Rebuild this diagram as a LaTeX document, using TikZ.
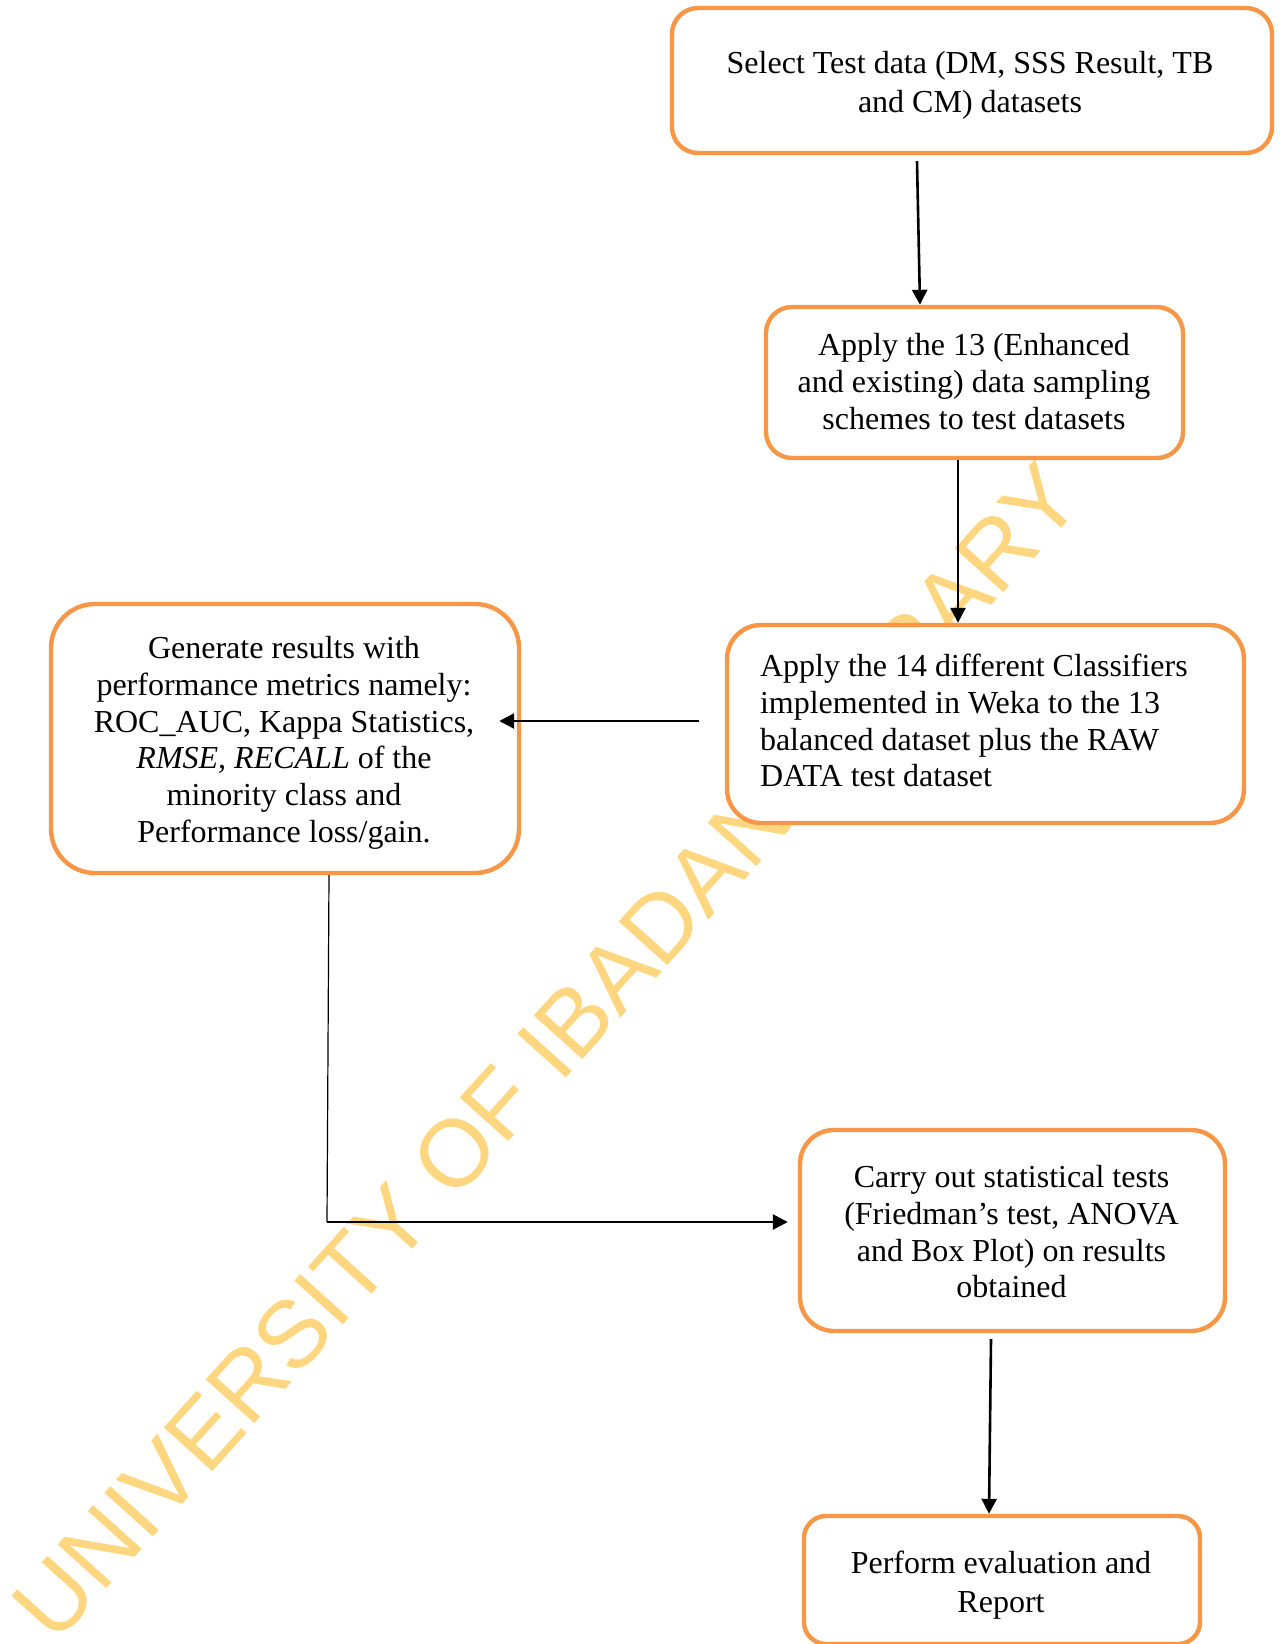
\documentclass[tikz,border=0pt]{standalone}
\usepackage{fontspec}
\setmainfont{Liberation Serif}
\newfontfamily\wmfont{Liberation Sans}
\usetikzlibrary{arrows.meta,calc}
\definecolor{boxorange}{HTML}{F79646}
\definecolor{wmyellow}{HTML}{FFD680}
\tikzset{
  box/.style={draw=boxorange, line width=2.2pt, fill=white, inner sep=0pt},
  boxtext/.style={align=center, inner sep=0pt, font=\fontsize{16}{18.35}\selectfont},
  boxtextwide/.style={align=center, inner sep=0pt, font=\fontsize{16}{19.4}\selectfont},
  arr/.style={-{Triangle[length=7.5pt,width=7.5pt]}, line width=1.3pt, black},
  plainline/.style={line width=0.6pt, black},
  watermark/.style={inner sep=0pt, text=wmyellow, font=\wmfont\fontsize{47.5}{50}\selectfont}
}
\begin{document}
\begin{tikzpicture}[x=0.5pt,y=-0.5pt]
\useasboundingbox (0,0) rectangle (1280,1644);
% watermark (behind boxes)
\node[watermark, rotate=48, anchor=base west] (wm) at (55,1646) {UNIVERSITY OF IBADAN LIBRARY};
% boxes
\node[box, minimum width=300pt, minimum height=72.5pt, rounded corners=13pt] (b1) at (972,80.5) {};
\node[box, minimum width=208.5pt, minimum height=75.5pt, rounded corners=13pt] (b2) at (974.5,382.5) {};
\node[box, minimum width=258.5pt, minimum height=99pt, rounded corners=17pt] (b3) at (985.5,724) {};
\node[box, minimum width=234pt, minimum height=134.5pt, rounded corners=22pt] (b4) at (285,738.5) {};
\node[box, minimum width=212.5pt, minimum height=100.5pt, rounded corners=17pt] (b5) at (1012.5,1230.5) {};
\node[box, minimum width=198pt, minimum height=64pt, rounded corners=11pt] (b6) at (1002,1580) {};
% texts
\node[boxtextwide] (t1) at (970,85.7) {Select Test data (DM, SSS Result, TB\\and CM) datasets};
\node[boxtext] (t2) at (974,381.5) {Apply the 13 (Enhanced\\and existing) data sampling\\schemes to test datasets};
\node[boxtext, align=flush left, text width=224.5pt] (t3) at (984.5,720.8)
  {Apply the 14 different Classifiers\\implemented in Weka to the 13\\balanced dataset plus the RAW\\DATA test dataset};
\node[boxtext] (t4) at (284,742.7)
  {Generate results with\\performance metrics namely:\\ROC\_AUC, Kappa Statistics,\\\textit{RMSE, RECALL} of the\\minority class and\\Performance loss/gain.};
\node[boxtext] (t5) at (1011.5,1231.8)
  {Carry out statistical tests\\(Friedman’s test, ANOVA\\and Box Plot) on results\\obtained};
\node[boxtextwide] (t6) at (1001,1585.2) {Perform evaluation and\\Report};
% connectors
\draw[arr] ([xshift=-27.5pt,yshift=-3pt]b1.south) -- ([xshift=-27.25pt]b2.north);
\draw[arr] ([xshift=-8.25pt]b2.south) -- ([xshift=-13.75pt]b3.north);
\draw[arr] ([xshift=-13pt,yshift=1.5pt]b3.west) -- ([xshift=-11pt,yshift=8.75pt]b4.east);
\coordinate (c1) at (327,1222);
\draw[plainline] ([xshift=22pt]b4.south) -- (c1);
\draw[arr] (c1) -- ([xshift=-5pt,yshift=4.25pt]b5.west);
\draw[arr] ([xshift=-10.75pt,yshift=-3pt]b5.south) -- ([xshift=-6.5pt]b6.north);
\end{tikzpicture}
\end{document}
